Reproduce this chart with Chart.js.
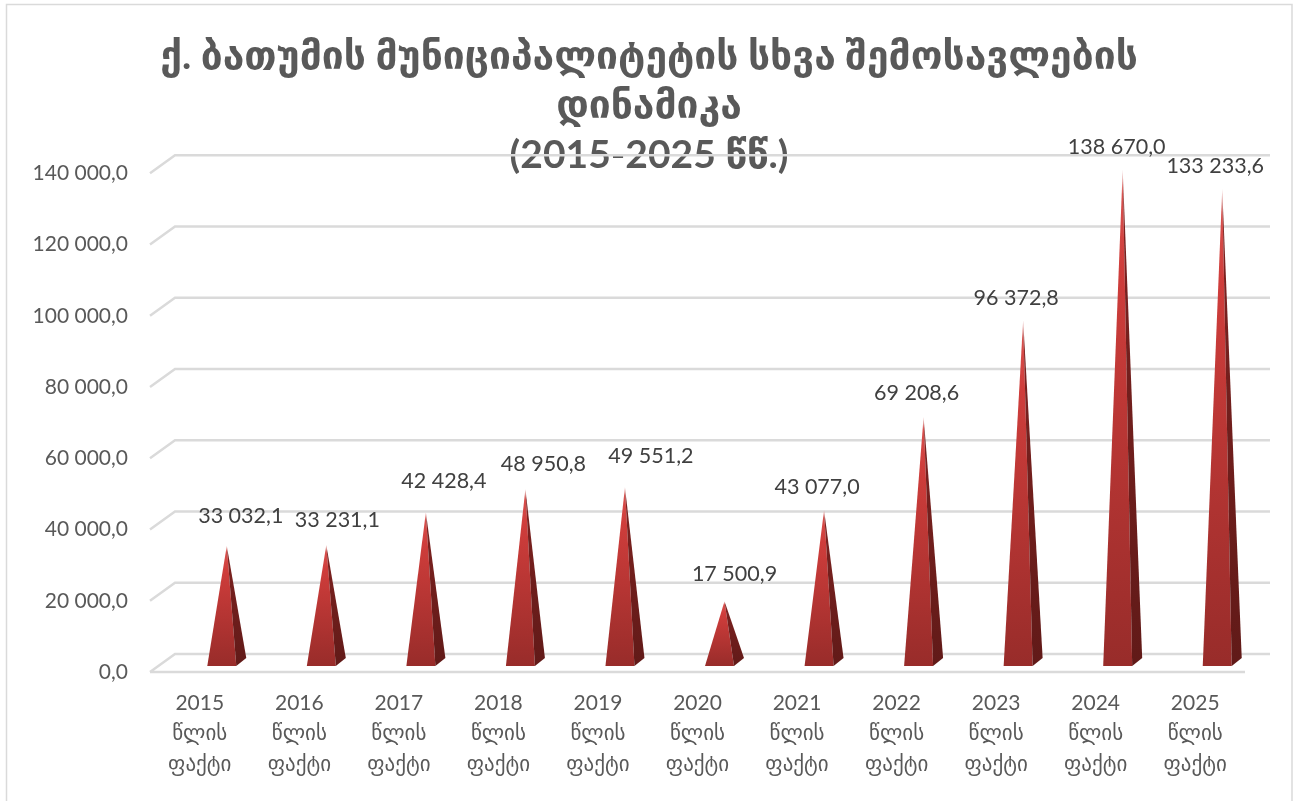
<!DOCTYPE html>
<html>
<head>
<meta charset="utf-8">
<title>ბათუმის სხვა შემოსავლები</title>
<script src="https://cdn.jsdelivr.net/npm/chart.js@4"></script>
<style>
    html, body { margin: 0; padding: 0; background: #fff; overflow: hidden; }
    canvas { display: block; }
</style>
</head>
<body>
<canvas id="spikeChart" width="1298" height="801"></canvas>
<script>
const years = ['2015', '2016', '2017', '2018', '2019', '2020', '2021', '2022', '2023', '2024', '2025'];
const income = [33032.1, 33231.1, 42428.4, 48950.8, 49551.2, 17500.9, 43077.0, 69208.6, 96372.8, 138670.0, 133233.6];
const titleLines = ['ქ. ბათუმის მუნიციპალიტეტის სხვა შემოსავლების', 'დინამიკა', '(2015-2025 წწ.)'];
const labelSuffix = ['წლის', 'ფაქტი'];

// Labels were dragged by hand in the original, so each one has its own nudge from the spike tip
const labelNudgeX = [14, 11, 18, 18, 26, 10, -7, -7, -7, -6, -7];
const labelNudgeY = [30, 25, 31, 25, 31, 27, 23, 24, 22, 22, 23];

const FONT = 'Lato, "DejaVu Sans", sans-serif';
const TEXT = '#595959';
const GRID = '#dadada';
const DEPTH_X = 25;
const DEPTH_Y = 18;
const RIGHT_GAP = 53;

function fmt(v) {
    const parts = v.toFixed(1).split('.');
    return parts[0].replace(/\B(?=(\d{3})+(?!\d))/g, ' ') + ',' + parts[1];
}

// Floor, back wall lines and the outer frame of the picture
const wallPlugin = {
    id: 'wall',
    afterLayout(chart) {
        // title is centred on the whole picture, not on the area left of the padding
        chart.titleBlock.left += RIGHT_GAP / 2;
        chart.titleBlock.right += RIGHT_GAP / 2;
    },
    beforeDatasetsDraw(chart) {
        const { ctx, chartArea, scales } = chart;
        ctx.save();
        ctx.strokeStyle = GRID;
        ctx.lineWidth = 1.5;
        ctx.beginPath();
        ctx.moveTo(6.5, 801);
        ctx.lineTo(6.5, 4.5);
        ctx.lineTo(1292, 4.5);
        ctx.lineTo(1292, 801);
        ctx.stroke();
        ctx.lineWidth = 2.5;
        scales.y.ticks.forEach(tick => {
            const y = scales.y.getPixelForValue(tick.value);
            ctx.beginPath();
            ctx.moveTo(chartArea.left, y);
            ctx.lineTo(chartArea.left + DEPTH_X, y - DEPTH_Y);
            ctx.lineTo(chartArea.right + DEPTH_X, y - DEPTH_Y);
            if (tick.value === 0) {
                ctx.moveTo(chartArea.left, y);
                ctx.lineTo(chartArea.right, y);
            }
            ctx.stroke();
        });
        ctx.restore();
    }
};

// The bars stay invisible, each one is painted as a pyramid on the same position
const pyramidPlugin = {
    id: 'pyramid',
    afterDatasetsDraw(chart) {
        const { ctx } = chart;
        const meta = chart.getDatasetMeta(0);
        ctx.save();
        meta.data.forEach((bar, i) => {
            const left = bar.x + 7.5 - bar.width / 2 + 14.5;
            const right = left + bar.width;
            const base = bar.base - 6;
            const tipX = left + bar.width / 2 + 5;
            const tipY = bar.y - 8.5;

            const front = ctx.createLinearGradient(0, tipY, 0, base);
            front.addColorStop(0, '#f0c4c2');
            front.addColorStop(0.05, '#d8504d');
            front.addColorStop(0.2, '#cf3d3b');
            front.addColorStop(1, '#982c2a');
            ctx.fillStyle = front;
            ctx.beginPath();
            ctx.moveTo(left, base);
            ctx.lineTo(right, base);
            ctx.lineTo(tipX, tipY);
            ctx.closePath();
            ctx.fill();

            const side = ctx.createLinearGradient(0, tipY, 0, base);
            side.addColorStop(0, '#e6b8b6');
            side.addColorStop(0.06, '#7d2220');
            side.addColorStop(1, '#611a18');
            ctx.fillStyle = side;
            ctx.beginPath();
            ctx.moveTo(right, base);
            ctx.lineTo(right + 10, base - 8);
            ctx.lineTo(tipX, tipY);
            ctx.closePath();
            ctx.fill();

            ctx.fillStyle = '#404040';
            ctx.font = '21.5px ' + FONT;
            ctx.textAlign = 'center';
            ctx.textBaseline = 'middle';
            ctx.fillText(fmt(income[i]), tipX + labelNudgeX[i], tipY - labelNudgeY[i]);
        });
        ctx.restore();
    }
};

new Chart(document.getElementById('spikeChart'), {
    type: 'bar',
    data: {
        labels: years.map(y => [y, ...labelSuffix]),
        datasets: [{
            label: 'სხვა შემოსავლები',
            data: income,
            backgroundColor: 'transparent',
            barThickness: 29
        }]
    },
    plugins: [wallPlugin, pyramidPlugin],
    options: {
        responsive: false,
        animation: false,
        layout: { padding: { right: RIGHT_GAP, left: 0, top: 0, bottom: 0 } },
        scales: {
            x: {
                grid: { display: false, drawTicks: false },
                border: { display: false },
                afterFit(scale) { scale.height = 129; },
                ticks: {
                    color: TEXT,
                    padding: 16,
                    maxRotation: 0,
                    autoSkip: false,
                    font: { family: FONT, size: 21, lineHeight: 1.45 }
                }
            },
            y: {
                min: 0,
                max: 140000,
                grid: { display: false, drawTicks: false },
                border: { display: false },
                afterFit(scale) { scale.width = 150; },
                ticks: {
                    stepSize: 20000,
                    color: TEXT,
                    padding: 22,
                    font: { family: FONT, size: 21 },
                    callback: v => fmt(v)
                }
            }
        },
        plugins: {
            legend: { display: false },
            tooltip: { enabled: false },
            title: {
                display: true,
                text: titleLines,
                color: TEXT,
                font: { family: FONT, size: 39, weight: 'bold', lineHeight: 1.28 },
                padding: { top: 31, bottom: -7.5 }
            }
        }
    }
});
</script>
</body>
</html>
